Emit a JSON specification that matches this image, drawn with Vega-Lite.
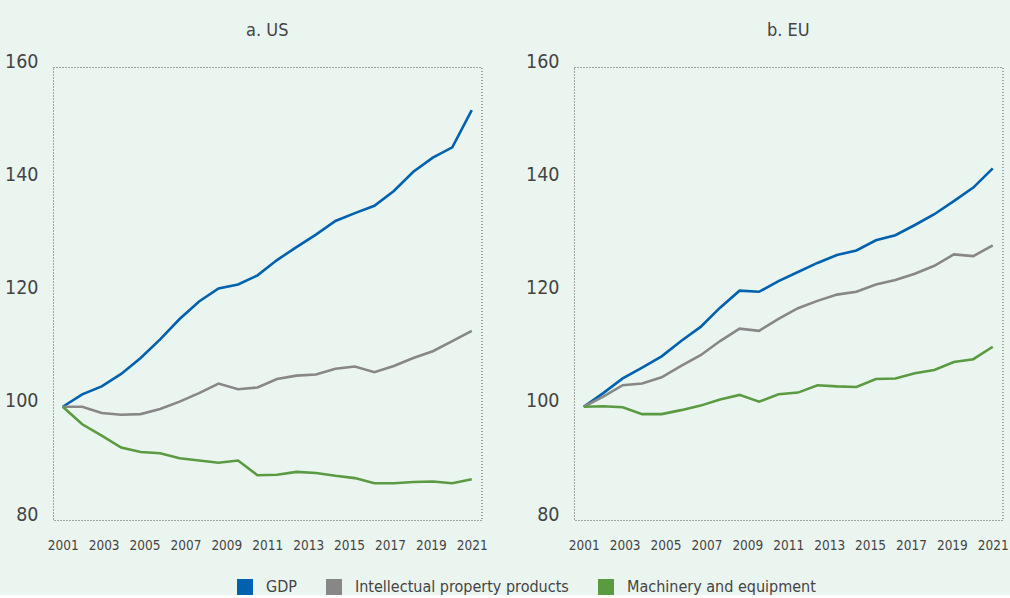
{
  "$schema": "https://vega.github.io/schema/vega-lite/v6.json",
  "background": "#EBF5F0",
  "padding": {"left": 4, "top": 21, "right": 2, "bottom": 0},
  "bounds": "flush",
  "spacing": 92,
  "datasets": {
    "d": [
      {"region":"US","series":"GDP","t":0,"value":100},{"region":"US","series":"GDP","t":1,"value":102.2},{"region":"US","series":"GDP","t":2,"value":103.6},{"region":"US","series":"GDP","t":3,"value":105.8},{"region":"US","series":"GDP","t":4,"value":108.6},{"region":"US","series":"GDP","t":5,"value":111.9},{"region":"US","series":"GDP","t":6,"value":115.5},{"region":"US","series":"GDP","t":7,"value":118.6},{"region":"US","series":"GDP","t":8,"value":120.9},{"region":"US","series":"GDP","t":9,"value":121.6},{"region":"US","series":"GDP","t":10,"value":123.2},{"region":"US","series":"GDP","t":11,"value":125.9},{"region":"US","series":"GDP","t":12,"value":128.2},{"region":"US","series":"GDP","t":13,"value":130.4},{"region":"US","series":"GDP","t":14,"value":132.8},{"region":"US","series":"GDP","t":15,"value":134.2},{"region":"US","series":"GDP","t":16,"value":135.5},{"region":"US","series":"GDP","t":17,"value":138.1},{"region":"US","series":"GDP","t":18,"value":141.5},{"region":"US","series":"GDP","t":19,"value":144.0},{"region":"US","series":"GDP","t":20,"value":145.8},{"region":"US","series":"GDP","t":21,"value":152.4},
      {"region":"US","series":"Intellectual property products","t":0,"value":100},{"region":"US","series":"Intellectual property products","t":1,"value":100},{"region":"US","series":"Intellectual property products","t":2,"value":98.9},{"region":"US","series":"Intellectual property products","t":3,"value":98.6},{"region":"US","series":"Intellectual property products","t":4,"value":98.7},{"region":"US","series":"Intellectual property products","t":5,"value":99.6},{"region":"US","series":"Intellectual property products","t":6,"value":100.9},{"region":"US","series":"Intellectual property products","t":7,"value":102.4},{"region":"US","series":"Intellectual property products","t":8,"value":104.1},{"region":"US","series":"Intellectual property products","t":9,"value":103.1},{"region":"US","series":"Intellectual property products","t":10,"value":103.4},{"region":"US","series":"Intellectual property products","t":11,"value":104.9},{"region":"US","series":"Intellectual property products","t":12,"value":105.5},{"region":"US","series":"Intellectual property products","t":13,"value":105.7},{"region":"US","series":"Intellectual property products","t":14,"value":106.7},{"region":"US","series":"Intellectual property products","t":15,"value":107.1},{"region":"US","series":"Intellectual property products","t":16,"value":106.1},{"region":"US","series":"Intellectual property products","t":17,"value":107.2},{"region":"US","series":"Intellectual property products","t":18,"value":108.6},{"region":"US","series":"Intellectual property products","t":19,"value":109.8},{"region":"US","series":"Intellectual property products","t":20,"value":111.6},{"region":"US","series":"Intellectual property products","t":21,"value":113.4},
      {"region":"US","series":"Machinery and equipment","t":0,"value":100},{"region":"US","series":"Machinery and equipment","t":1,"value":96.9},{"region":"US","series":"Machinery and equipment","t":2,"value":94.9},{"region":"US","series":"Machinery and equipment","t":3,"value":92.8},{"region":"US","series":"Machinery and equipment","t":4,"value":92.0},{"region":"US","series":"Machinery and equipment","t":5,"value":91.8},{"region":"US","series":"Machinery and equipment","t":6,"value":90.9},{"region":"US","series":"Machinery and equipment","t":7,"value":90.5},{"region":"US","series":"Machinery and equipment","t":8,"value":90.1},{"region":"US","series":"Machinery and equipment","t":9,"value":90.5},{"region":"US","series":"Machinery and equipment","t":10,"value":87.9},{"region":"US","series":"Machinery and equipment","t":11,"value":88.0},{"region":"US","series":"Machinery and equipment","t":12,"value":88.5},{"region":"US","series":"Machinery and equipment","t":13,"value":88.3},{"region":"US","series":"Machinery and equipment","t":14,"value":87.8},{"region":"US","series":"Machinery and equipment","t":15,"value":87.4},{"region":"US","series":"Machinery and equipment","t":16,"value":86.5},{"region":"US","series":"Machinery and equipment","t":17,"value":86.5},{"region":"US","series":"Machinery and equipment","t":18,"value":86.7},{"region":"US","series":"Machinery and equipment","t":19,"value":86.8},{"region":"US","series":"Machinery and equipment","t":20,"value":86.5},{"region":"US","series":"Machinery and equipment","t":21,"value":87.2},
      {"region":"EU","series":"GDP","t":0,"value":100},{"region":"EU","series":"GDP","t":1,"value":102.4},{"region":"EU","series":"GDP","t":2,"value":105.0},{"region":"EU","series":"GDP","t":3,"value":106.9},{"region":"EU","series":"GDP","t":4,"value":108.9},{"region":"EU","series":"GDP","t":5,"value":111.6},{"region":"EU","series":"GDP","t":6,"value":114.1},{"region":"EU","series":"GDP","t":7,"value":117.5},{"region":"EU","series":"GDP","t":8,"value":120.5},{"region":"EU","series":"GDP","t":9,"value":120.3},{"region":"EU","series":"GDP","t":10,"value":122.2},{"region":"EU","series":"GDP","t":11,"value":123.8},{"region":"EU","series":"GDP","t":12,"value":125.4},{"region":"EU","series":"GDP","t":13,"value":126.8},{"region":"EU","series":"GDP","t":14,"value":127.6},{"region":"EU","series":"GDP","t":15,"value":129.4},{"region":"EU","series":"GDP","t":16,"value":130.3},{"region":"EU","series":"GDP","t":17,"value":132.1},{"region":"EU","series":"GDP","t":18,"value":134.0},{"region":"EU","series":"GDP","t":19,"value":136.3},{"region":"EU","series":"GDP","t":20,"value":138.7},{"region":"EU","series":"GDP","t":21,"value":142.1},
      {"region":"EU","series":"Intellectual property products","t":0,"value":100},{"region":"EU","series":"Intellectual property products","t":1,"value":101.8},{"region":"EU","series":"Intellectual property products","t":2,"value":103.8},{"region":"EU","series":"Intellectual property products","t":3,"value":104.1},{"region":"EU","series":"Intellectual property products","t":4,"value":105.2},{"region":"EU","series":"Intellectual property products","t":5,"value":107.2},{"region":"EU","series":"Intellectual property products","t":6,"value":109.1},{"region":"EU","series":"Intellectual property products","t":7,"value":111.6},{"region":"EU","series":"Intellectual property products","t":8,"value":113.8},{"region":"EU","series":"Intellectual property products","t":9,"value":113.4},{"region":"EU","series":"Intellectual property products","t":10,"value":115.5},{"region":"EU","series":"Intellectual property products","t":11,"value":117.4},{"region":"EU","series":"Intellectual property products","t":12,"value":118.7},{"region":"EU","series":"Intellectual property products","t":13,"value":119.8},{"region":"EU","series":"Intellectual property products","t":14,"value":120.3},{"region":"EU","series":"Intellectual property products","t":15,"value":121.6},{"region":"EU","series":"Intellectual property products","t":16,"value":122.4},{"region":"EU","series":"Intellectual property products","t":17,"value":123.5},{"region":"EU","series":"Intellectual property products","t":18,"value":124.9},{"region":"EU","series":"Intellectual property products","t":19,"value":126.9},{"region":"EU","series":"Intellectual property products","t":20,"value":126.6},{"region":"EU","series":"Intellectual property products","t":21,"value":128.5},
      {"region":"EU","series":"Machinery and equipment","t":0,"value":100},{"region":"EU","series":"Machinery and equipment","t":1,"value":100.1},{"region":"EU","series":"Machinery and equipment","t":2,"value":99.9},{"region":"EU","series":"Machinery and equipment","t":3,"value":98.7},{"region":"EU","series":"Machinery and equipment","t":4,"value":98.7},{"region":"EU","series":"Machinery and equipment","t":5,"value":99.4},{"region":"EU","series":"Machinery and equipment","t":6,"value":100.2},{"region":"EU","series":"Machinery and equipment","t":7,"value":101.3},{"region":"EU","series":"Machinery and equipment","t":8,"value":102.1},{"region":"EU","series":"Machinery and equipment","t":9,"value":100.9},{"region":"EU","series":"Machinery and equipment","t":10,"value":102.2},{"region":"EU","series":"Machinery and equipment","t":11,"value":102.5},{"region":"EU","series":"Machinery and equipment","t":12,"value":103.8},{"region":"EU","series":"Machinery and equipment","t":13,"value":103.6},{"region":"EU","series":"Machinery and equipment","t":14,"value":103.5},{"region":"EU","series":"Machinery and equipment","t":15,"value":104.9},{"region":"EU","series":"Machinery and equipment","t":16,"value":105.0},{"region":"EU","series":"Machinery and equipment","t":17,"value":105.9},{"region":"EU","series":"Machinery and equipment","t":18,"value":106.5},{"region":"EU","series":"Machinery and equipment","t":19,"value":107.9},{"region":"EU","series":"Machinery and equipment","t":20,"value":108.4},{"region":"EU","series":"Machinery and equipment","t":21,"value":110.6}
    ]
  },
  "hconcat": [
    {
      "width": 428.5,
      "height": 453,
      "title": {"text": "a. US", "frame": "group", "anchor": "middle", "baseline": "alphabetic", "offset": -3, "fontSize": 18, "fontWeight": "normal", "color": "#444444"},
      "data": {"name": "d"},
      "transform": [{"filter": "datum.region === 'US'"}],
      "mark": {"type": "line", "strokeWidth": 2.6},
      "encoding": {
        "x": {"field": "t", "type": "quantitative", "scale": {"domain": [-0.5, 21.5], "nice": false, "zero": false},
              "axis": {"values": [0, 2.1, 4.2, 6.3, 8.4, 10.5, 12.6, 14.7, 16.8, 18.9, 21], "labelExpr": "'' + (2001 + 2 * round(datum.value / 2.1))"}},
        "y": {"field": "value", "type": "quantitative", "scale": {"domain": [80, 160], "nice": false, "zero": false},
              "axis": {"values": [80, 100, 120, 140, 160]}},
        "color": {"field": "series", "type": "nominal",
                  "scale": {"domain": ["GDP", "Intellectual property products", "Machinery and equipment"], "range": ["#0061AF", "#878787", "#5A9A40"]},
                  "legend": {"orient": "none", "legendX": 184, "legendY": 512, "direction": "horizontal",
                             "encode": {"symbols": {"update": {"fill": {"scale": "color", "field": "value"}, "strokeWidth": {"value": 0}, "opacity": {"value": 1}}}}}}
      }
    },
    {
      "width": 428.5,
      "height": 453,
      "title": {"text": "b. EU", "frame": "group", "anchor": "middle", "baseline": "alphabetic", "offset": -3, "fontSize": 18, "fontWeight": "normal", "color": "#444444"},
      "data": {"name": "d"},
      "transform": [{"filter": "datum.region === 'EU'"}],
      "mark": {"type": "line", "strokeWidth": 2.6},
      "encoding": {
        "x": {"field": "t", "type": "quantitative", "scale": {"domain": [-0.5, 21.5], "nice": false, "zero": false},
              "axis": {"values": [0, 2.1, 4.2, 6.3, 8.4, 10.5, 12.6, 14.7, 16.8, 18.9, 21], "labelExpr": "'' + (2001 + 2 * round(datum.value / 2.1))"}},
        "y": {"field": "value", "type": "quantitative", "scale": {"domain": [80, 160], "nice": false, "zero": false},
              "axis": {"values": [80, 100, 120, 140, 160]}},
        "color": {"field": "series", "type": "nominal",
                  "scale": {"domain": ["GDP", "Intellectual property products", "Machinery and equipment"], "range": ["#0061AF", "#878787", "#5A9A40"]},
                  "legend": {"orient": "none", "legendX": 184, "legendY": 512, "direction": "horizontal",
                             "encode": {"symbols": {"update": {"fill": {"scale": "color", "field": "value"}, "strokeWidth": {"value": 0}, "opacity": {"value": 1}}}}}}
      }
    }
  ],
  "resolve": {"scale": {"color": "shared"}, "legend": {"color": "shared"}},
  "config": {
    "font": "DejaVu Sans Condensed, DejaVu Sans, sans-serif",
    "view": {"stroke": "#555555", "strokeWidth": 1, "strokeDash": [1, 2]},
    "axisX": {
      "title": null, "grid": false, "ticks": false, "tickSize": 0, "domain": false,
      "labelFontSize": 13.5, "labelColor": "#444444", "labelPadding": 18, "labelFlush": false, "labelOverlap": false
    },
    "axisY": {
      "title": null, "grid": false, "ticks": false, "tickSize": 0, "domain": false,
      "labelFontSize": 19.5, "labelColor": "#444444", "labelPadding": 15, "labelBaseline": "alphabetic", "labelDy": 1
    },
    "legend": {
      "title": null,
      "symbolType": "square", "symbolSize": 256, "symbolStrokeWidth": 0, "symbolOpacity": 1,
      "labelFontSize": 16, "labelColor": "#444444", "labelOffset": 13, "labelLimit": 0, "columnPadding": 29
    }
  }
}
